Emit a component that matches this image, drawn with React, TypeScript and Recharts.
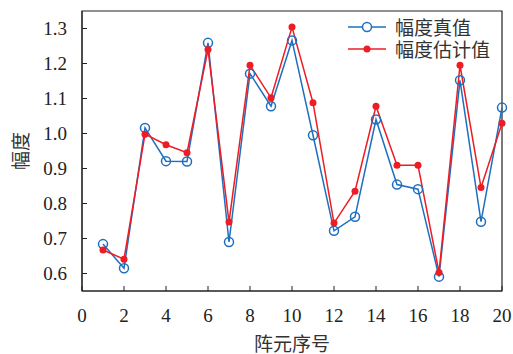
import { LineChart, Line, XAxis, YAxis, ReferenceArea } from "recharts";

const elements = [1, 2, 3, 4, 5, 6, 7, 8, 9, 10, 11, 12, 13, 14, 15, 16, 17, 18, 19, 20];
const trueAmp = [0.684, 0.615, 1.016, 0.921, 0.920, 1.259, 0.690, 1.171, 1.078, 1.266, 0.995, 0.722, 0.762, 1.040, 0.854, 0.841, 0.591, 1.152, 0.748, 1.074];
const estAmp = [0.667, 0.641, 0.998, 0.968, 0.945, 1.240, 0.747, 1.195, 1.102, 1.304, 1.088, 0.744, 0.835, 1.078, 0.909, 0.909, 0.603, 1.195, 0.846, 1.029];
const xTicks = [0, 2, 4, 6, 8, 10, 12, 14, 16, 18, 20];
const yTicks = [0.6, 0.7, 0.8, 0.9, 1.0, 1.1, 1.2, 1.3];
const legendItems = [
  { label: "幅度真值", color: "#1f6fbf", hollow: true },
  { label: "幅度估计值", color: "#ee1c24", hollow: false },
];

const BLUE = "#1f6fbf";
const RED = "#ee1c24";
const SERIF = "Times New Roman, Liberation Serif, DejaVu Serif, serif";
const CJK = "Noto Sans CJK SC";

const data = elements.map((n, i) => ({ n, trueAmp: trueAmp[i], estAmp: estAmp[i] }));

const XTick = ({ x, y, payload }: any) => (
  <g>
    <line x1={x} x2={x} y1={y} y2={y - 5} stroke="#222" />
    <text x={x} y={y + 24} textAnchor="middle" dominantBaseline="central" fontFamily={SERIF} fontSize={19} fill="#222">
      {payload.value}
    </text>
  </g>
);

const YTick = ({ x, y, payload }: any) => (
  <g>
    <line x1={x} x2={x + 5} y1={y} y2={y} stroke="#222" />
    <text x={x - 15} y={y} textAnchor="end" dominantBaseline="central" fontFamily={SERIF} fontSize={19} fill="#222">
      {Number(payload.value).toFixed(1)}
    </text>
  </g>
);

const YLabel = () => (
  <text x={19} y={151} transform="rotate(-90 19 151)" textAnchor="middle" dominantBaseline="central" fontFamily={CJK} fontSize={19} fill="#333">
    幅度
  </text>
);

const XLabel = () => (
  <text x={292} y={342} textAnchor="middle" dominantBaseline="central" fontFamily={CJK} fontSize={19} fill="#333">
    阵元序号
  </text>
);

export default function App() {
  return (
    <div style={{ position: "absolute", left: 0, top: 0, width: 513, height: 354, background: "#fff" }}>
      <LineChart width={513} height={354} data={data} margin={{ top: 11, right: 11, left: 0, bottom: 0 }}>
        <XAxis
          dataKey="n"
          type="number"
          domain={[0, 20]}
          ticks={xTicks}
          height={63}
          stroke="#222"
          tickSize={0}
          tickMargin={0}
          tickLine={false}
          tick={<XTick />}
          label={{ content: <XLabel /> }}
        />
        <YAxis
          type="number"
          domain={[0.55, 1.35]}
          ticks={yTicks}
          allowDataOverflow
          width={82}
          stroke="#222"
          tickSize={0}
          tickMargin={0}
          tickLine={false}
          tick={<YTick />}
          label={{ content: <YLabel /> }}
        />
        <ReferenceArea x1={0} x2={20} y1={0.55} y2={1.35} fill="none" stroke="#222" strokeWidth={1.2} />
        <Line
          dataKey="trueAmp"
          stroke={BLUE}
          strokeWidth={1.5}
          dot={{ r: 4.5, stroke: BLUE, strokeWidth: 1.5, fill: "none" }}
          isAnimationActive={false}
        />
        <Line
          dataKey="estAmp"
          stroke={RED}
          strokeWidth={1.5}
          dot={{ r: 3.5, stroke: RED, strokeWidth: 0, fill: RED }}
          isAnimationActive={false}
        />
      </LineChart>
      <div style={{ position: "absolute", left: 346, top: 16 }}>
        {legendItems.map((r) => (
          <div key={r.label} style={{ display: "flex", alignItems: "center", height: 22 }}>
            <svg width={42} height={22}>
              <line x1={2} x2={40} y1={11} y2={11} stroke={r.color} strokeWidth={1.5} />
              {r.hollow ? (
                <circle cx={21} cy={11} r={4.5} fill="#fff" stroke={r.color} strokeWidth={1.5} />
              ) : (
                <circle cx={21} cy={11} r={3.5} fill={r.color} />
              )}
            </svg>
            <span style={{ marginLeft: 7, fontFamily: CJK, fontSize: 19, color: "#333", lineHeight: "20px" }}>{r.label}</span>
          </div>
        ))}
      </div>
    </div>
  );
}
